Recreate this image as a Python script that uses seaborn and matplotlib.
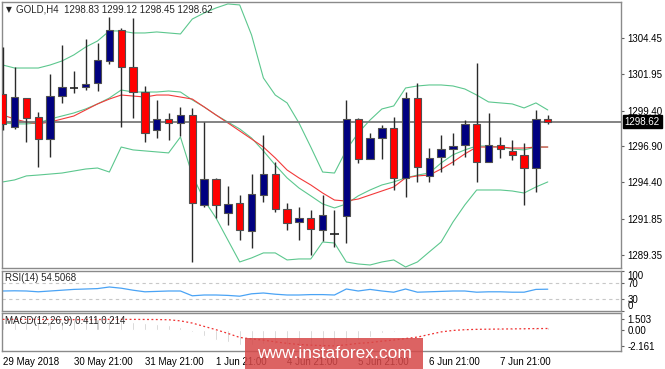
import numpy as np
import pandas as pd
import matplotlib
matplotlib.use("Agg")
import matplotlib.pyplot as plt
import matplotlib.transforms as mtransforms
from matplotlib.patches import Rectangle
import seaborn as sns

# ---------------- data ----------------
opens = [1300.55, 1298.26, 1300.27, 1298.95, 1297.42, 1300.41, 1300.97, 1301.04, 1301.32, 1302.85,
         1305.01, 1302.43, 1300.69, 1298.05, 1298.81, 1298.53, 1299.09, 1292.83, 1294.64, 1292.27,
         1292.97, 1291.02, 1293.52, 1294.99, 1292.55, 1291.65, 1291.92, 1291.09, 1290.78, 1292.06,
         1298.81, 1296.03, 1297.49, 1298.19, 1294.71, 1300.27, 1294.85, 1296.17, 1296.73, 1297.00,
         1298.46, 1295.82, 1297.00, 1296.59, 1296.31, 1295.40, 1298.83]
highs = [1303.82, 1302.43, 1300.30, 1299.30, 1301.94, 1303.96, 1302.15, 1304.38, 1304.10, 1305.91,
         1305.15, 1305.84, 1301.11, 1300.14, 1299.23, 1299.65, 1299.58, 1298.60, 1294.70, 1294.15,
         1293.52, 1294.99, 1297.70, 1295.82, 1292.97, 1292.69, 1292.48, 1293.52, 1292.48, 1300.14,
         1298.85, 1297.84, 1298.40, 1298.95, 1300.69, 1301.32, 1296.80, 1297.70, 1297.84, 1298.74,
         1302.71, 1299.23, 1297.56, 1297.35, 1297.14, 1299.44, 1299.12]
lows = [1298.05, 1298.12, 1297.21, 1295.47, 1296.17, 1299.93, 1300.62, 1300.83, 1300.76, 1302.64,
        1298.26, 1298.88, 1297.21, 1297.49, 1297.35, 1297.63, 1288.86, 1292.69, 1291.92, 1291.44,
        1290.39, 1289.84, 1293.04, 1292.34, 1291.09, 1290.39, 1289.35, 1290.32, 1289.90, 1290.18,
        1295.75, 1296.00, 1296.03, 1293.87, 1293.38, 1294.43, 1294.43, 1295.12, 1295.61, 1296.17,
        1294.43, 1295.80, 1296.10, 1295.96, 1292.83, 1293.73, 1298.45]
closes = [1298.46, 1300.34, 1298.88, 1297.42, 1300.41, 1301.04, 1300.97, 1301.25, 1302.92, 1305.01,
          1302.43, 1300.69, 1297.84, 1298.81, 1298.53, 1299.09, 1292.97, 1294.64, 1292.83, 1292.90,
          1291.09, 1293.59, 1294.99, 1292.55, 1291.58, 1291.92, 1291.16, 1292.13, 1290.78, 1298.81,
          1296.03, 1297.49, 1298.19, 1294.71, 1300.27, 1295.47, 1296.10, 1296.73, 1296.93, 1298.46,
          1295.82, 1297.00, 1296.73, 1296.31, 1295.40, 1298.81, 1298.62]

bb_upper = [1302.57, 1302.36, 1302.36, 1302.36, 1302.57, 1302.85, 1303.27, 1303.82, 1304.24, 1304.94,
            1304.94, 1304.80, 1304.80, 1304.87, 1304.80, 1304.73, 1305.77, 1306.19, 1306.54, 1306.82,
            1306.75, 1304.66, 1301.67, 1300.48, 1299.93, 1298.54, 1296.86, 1295.12, 1295.05, 1296.66,
            1297.84, 1298.74, 1299.51, 1299.72, 1300.97, 1301.11, 1301.18, 1301.18, 1301.11, 1300.90,
            1300.48, 1300.00, 1299.93, 1299.86, 1299.58, 1299.93, 1299.44]
bb_middle = [1298.54, 1298.47, 1298.47, 1298.54, 1298.81, 1299.02, 1299.23, 1299.51, 1299.86, 1300.27,
             1300.83, 1300.69, 1300.69, 1300.69, 1300.76, 1300.69, 1300.14, 1299.65, 1299.09, 1298.60,
             1298.12, 1297.49, 1296.59, 1295.61, 1294.71, 1294.01, 1293.46, 1292.90, 1292.62, 1292.90,
             1293.46, 1293.87, 1294.22, 1294.43, 1294.71, 1294.91, 1295.05, 1295.75, 1296.32, 1296.66,
             1296.93, 1296.93, 1296.86, 1296.72, 1296.66, 1296.86, 1296.86]
bb_lower = [1294.43, 1294.57, 1294.85, 1294.91, 1294.98, 1295.05, 1295.19, 1295.33, 1295.40, 1295.12,
            1296.86, 1296.66, 1296.59, 1296.52, 1296.45, 1297.56, 1294.91, 1293.17, 1291.92, 1290.39,
            1288.86, 1289.14, 1289.49, 1289.49, 1289.00, 1289.07, 1289.07, 1290.25, 1290.18, 1288.86,
            1288.72, 1288.65, 1288.86, 1289.00, 1288.51, 1288.86, 1289.56, 1290.25, 1291.64, 1292.83,
            1293.87, 1293.87, 1293.87, 1293.80, 1293.66, 1294.08, 1294.43]
ma_red = [1299.09, 1298.81, 1298.60, 1298.47, 1298.60, 1298.81, 1299.02, 1299.44, 1299.86, 1300.20,
          1300.48, 1300.41, 1300.34, 1300.48, 1300.48, 1300.34, 1300.20, 1299.65, 1299.09, 1298.54,
          1297.98, 1297.42, 1296.86, 1296.10, 1295.26, 1294.71, 1294.22, 1293.66, 1293.17, 1293.10,
          1293.24, 1293.52, 1293.80, 1294.08, 1294.71, 1294.85, 1294.91, 1295.33, 1295.82, 1296.38,
          1296.86, 1296.86, 1296.86, 1296.79, 1296.79, 1296.86, 1296.86]

rsi = [50, 50.5, 50, 48, 50, 52, 54, 55, 56, 60,
       57, 52, 48, 49, 50, 50, 38, 40, 40, 39,
       37, 43, 45, 42, 40, 40, 41, 41, 40, 55,
       50, 54, 50, 47, 55, 47, 48, 49, 50, 50,
       47, 48, 48, 47, 47, 54, 54.5068]

macd_main = [1.35, 1.30, 1.25, 1.15, 1.15, 1.20, 1.30, 1.38, 1.45, 1.503,
             1.36, 1.13, 1.00, 0.77, 0.63, 0.45, -0.23, -0.81, -1.36, -1.59,
             -2.03, -2.03, -1.95, -1.95, -2.05, -2.10, -2.161, -2.10, -2.05, -1.80,
             -1.36, -0.90, -0.45, -0.30, 0.00, 0.05, 0.10, 0.14, 0.20, 0.28,
             0.30, 0.28, 0.30, 0.30, 0.25, 0.35, 0.411]
macd_signal = [1.45, 1.46, 1.46, 1.45, 1.44, 1.43, 1.42, 1.42, 1.43, 1.45,
               1.45, 1.45, 1.44, 1.43, 1.40, 1.25, 0.95, 0.50, 0.05, -0.45,
               -1.00, -1.20, -1.36, -1.60, -1.80, -1.95, -2.05, -2.10, -2.15, -2.00,
               -1.80, -1.70, -1.50, -1.36, -1.15, -0.95, -0.60, -0.25, -0.05, 0.05,
               0.10, 0.12, 0.14, 0.16, 0.18, 0.20, 0.214]

price_ticks = [1304.45, 1301.95, 1299.40, 1296.90, 1294.40, 1291.85, 1289.35]
price_tick_labels = ["1304.45", "1301.95", "1299.40", "1296.90", "1294.40", "1291.85", "1289.35"]
rsi_ticks = [100, 70, 30, 0]
rsi_levels = [70, 30]
macd_ticks = [1.503, 0.0, -2.161]
macd_tick_labels = ["1.503", "0.00", "-2.161"]
time_label_pos = [0, 6, 12, 18, 24, 30, 36, 42]
time_labels = ["29 May 2018", "30 May 21:00", "31 May 21:00", "1 Jun 21:00",
               "4 Jun 21:00", "5 Jun 21:00", "6 Jun 21:00", "7 Jun 21:00"]
last_price = 1298.62
title_text = "GOLD,H4  1298.83 1299.12 1298.45 1298.62"
rsi_text = "RSI(14) 54.5068"
macd_text = "MACD(12,26,9) 0.411 0.214"
watermark = "www.instaforex.com"

# ---------------- styling ----------------
sns.set_style("white")
plt.rcParams['font.family'] = ['Liberation Sans', 'DejaVu Sans']
plt.rcParams['font.size'] = 7

W, H = 665, 369
fig = plt.figure(figsize=(W / 100, H / 100), dpi=100)
fig.patch.set_facecolor("white")


def rect(x0, y0, x1, y1):
    return [x0 / W, 1 - y1 / H, (x1 - x0) / W, (y1 - y0) / H]


ax = fig.add_axes(rect(2, 2, 621, 268))
ax_rsi = fig.add_axes(rect(2, 271, 621, 311))
ax_macd = fig.add_axes(rect(2, 313, 621, 351))

n = len(opens)
idx = np.arange(n)
df = pd.DataFrame({"i": idx, "open": opens, "high": highs, "low": lows, "close": closes,
                   "up": bb_upper, "mid": bb_middle, "lo": bb_lower, "ma": ma_red,
                   "rsi": rsi, "macd": macd_main, "sig": macd_signal})

xlim = (-0.06, 52.18)
spine_col = "#8a8a8a"
for a in (ax, ax_rsi, ax_macd):
    a.set_xlim(*xlim)
    for s in a.spines.values():
        s.set_color(spine_col)
        s.set_linewidth(1.0)
    a.yaxis.tick_right()
    a.tick_params(axis="y", direction="out", length=2.5, width=0.8, colors="#606060",
                  labelcolor="black", labelsize=7, pad=2)
    a.set_facecolor("white")

# ---------------- main panel ----------------
ax.set_ylim(1288.44, 1306.955)
green = "#5cc78e"
for col in ("up", "mid", "lo"):
    sns.lineplot(data=df, x="i", y=col, ax=ax, color=green, linewidth=0.8, legend=False, zorder=2)
sns.lineplot(data=df, x="i", y="ma", ax=ax, color="#f23a3a", linewidth=0.8, legend=False, zorder=2)

ax.axhline(last_price, color="#7a7a7a", linewidth=1.3, zorder=3)

ax.vlines(df["i"], df["low"], df["high"], color="#2a2a2a", linewidth=1.0, zorder=4)
o = df["open"].to_numpy()
c = df["close"].to_numpy()
bull = c > o
bear = c < o
doji = c == o
ax.bar(idx[bull], (c - o)[bull], bottom=o[bull], width=0.62, color="#000080",
       edgecolor="#505050", linewidth=0.8, zorder=5)
ax.bar(idx[bear], (o - c)[bear], bottom=c[bear], width=0.62, color="#ff0000",
       edgecolor="#505050", linewidth=0.8, zorder=5)
ax.hlines(c[doji], idx[doji] - 0.34, idx[doji] + 0.34, color="#202020", linewidth=1.2, zorder=5)

ax.set_yticks(price_ticks)
ax.set_yticklabels(price_tick_labels)
ax.tick_params(axis="x", which="both", bottom=False, labelbottom=False)
ax.set_xlabel("")
ax.set_ylabel("")

blend = mtransforms.blended_transform_factory(ax.transAxes, ax.transData)
ax.text(1.006, last_price, f"{last_price:.2f}", transform=blend, ha="left", va="center",
        color="white", fontsize=7, zorder=10,
        bbox=dict(boxstyle="square,pad=0.18", fc="black", ec="black"))

fig.text(6 / W, 1 - 10 / H, "\u25BC", fontsize=5.5, family="DejaVu Sans", va="center", ha="left")
fig.text(16 / W, 1 - 10 / H, title_text, fontsize=7, va="center", ha="left")

# ---------------- RSI panel ----------------
ax_rsi.set_ylim(0, 100)
for lv in rsi_levels:
    ax_rsi.axhline(lv, color="#c8c8c8", linewidth=0.8, linestyle=(0, (3, 3)))
sns.lineplot(data=df, x="i", y="rsi", ax=ax_rsi, color="#4aa3f5", linewidth=0.9, legend=False)
ax_rsi.set_yticks(rsi_ticks)
ax_rsi.set_yticklabels([str(t) for t in rsi_ticks])
labs = ax_rsi.get_yticklabels()
labs[0].set_va("top")
labs[-1].set_va("bottom")
ax_rsi.tick_params(axis="x", which="both", bottom=False, labelbottom=False)
ax_rsi.set_xlabel("")
ax_rsi.set_ylabel("")
fig.text(5 / W, 1 - 278 / H, rsi_text, fontsize=7, va="center", ha="left")

# ---------------- MACD panel ----------------
ax_macd.set_ylim(-2.84, 2.317)
ax_macd.bar(idx, macd_main, width=0.17, color="#c4c4c4", zorder=2)
sns.lineplot(data=df, x="i", y="sig", ax=ax_macd, color="#f03030", linewidth=0.9,
             linestyle=(0, (1.5, 2)), legend=False, zorder=3)
ax_macd.set_yticks(macd_ticks)
ax_macd.set_yticklabels(macd_tick_labels)
ax_macd.set_xticks(time_label_pos)
ax_macd.set_xticklabels(time_labels)
ax_macd.tick_params(axis="x", direction="out", length=3, width=0.8, colors="#606060",
                    labelcolor="black", labelsize=7, pad=1.5)
for lab in ax_macd.get_xticklabels():
    lab.set_ha("left")
ax_macd.set_xlabel("")
ax_macd.set_ylabel("")
fig.text(5 / W, 1 - 321 / H, macd_text, fontsize=7, va="center", ha="left", zorder=5)

# ---------------- watermark ----------------
fig.patches.append(Rectangle((245 / W, 0), (423 - 245) / W, (369 - 338) / H,
                             transform=fig.transFigure, facecolor="#d64848", alpha=0.85,
                             edgecolor="none", zorder=20))
fig.text(334 / W, 1 - 354 / H, watermark, color="white", fontsize=12.5, ha="center",
         va="center", zorder=21)

fig.savefig("out.png", dpi=100, facecolor="white")
